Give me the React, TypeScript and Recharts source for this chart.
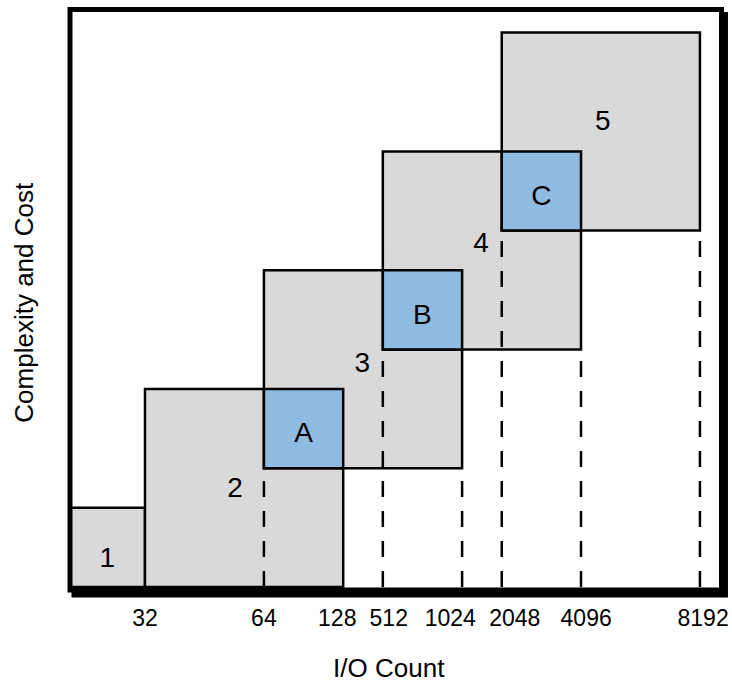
import React from 'react';
import {
  ComposedChart,
  XAxis,
  YAxis,
  ReferenceArea,
  ReferenceLine,
  ReferenceDot,
} from 'recharts';

// Tiers (gray squares)
const tierNames = ['1', '2', '3', '4', '5'];
const tierX1 = [0, 2, 5, 8, 11];
const tierX2 = [2, 7, 10, 13, 16];
const tierY1 = [0, 0, 3, 6, 9];
const tierY2 = [2, 5, 8, 11, 14];
const tierLabelX = [1.05, 4.27, 7.48, 10.48, 13.55];
const tierLabelY = [0.76, 2.52, 5.68, 8.7, 11.8];

// Overlap zones (blue squares)
const zoneNames = ['A', 'B', 'C'];
const zoneX1 = [5, 8, 11];
const zoneX2 = [7, 10, 13];
const zoneY1 = [3, 6, 9];
const zoneY2 = [5, 8, 11];

// Dashed guide lines
const guideX = [5, 8, 10, 11, 13, 16];
const guideTop = [3, 6, 3, 9, 6, 9];

// X axis tick labels
const tickPositions = [2, 5, 6.85, 8.15, 9.7, 11.33, 13.13, 16.08];
const tickLabels = ['32', '64', '128', '512', '1024', '2048', '4096', '8192'];

const X_MIN = 0.108;
const X_MAX = 16.544;
const Y_MIN = -0.076;
const Y_MAX = 14.583;

const FONT = 'Liberation Sans, Arial, Helvetica, sans-serif';
const GRAY = '#d9d9d9';
const BLUE = '#8fbbe0';

export default function App() {
  return (
    <div style={{ position: 'absolute', left: 0, top: 0, width: 732, height: 684, background: '#fff' }}>
      <ComposedChart
        width={732}
        height={684}
        margin={{ top: 9.5, right: 10.5, left: 0, bottom: 0 }}
        style={{ fontFamily: FONT }}
      >
        <XAxis
          type="number"
          dataKey="x"
          domain={[X_MIN, X_MAX]}
          allowDataOverflow
          ticks={tickPositions}
          interval={0}
          tickFormatter={(v: number) => {
            const i = tickPositions.indexOf(v);
            return i >= 0 ? tickLabels[i] : '';
          }}
          axisLine={false}
          tickLine={false}
          tickSize={6}
          tickMargin={14}
          height={94}
          tick={{ fill: '#000', fontSize: 23, fontFamily: FONT }}
          label={{
            value: 'I/O Count',
            position: 'insideBottom',
            offset: 7,
            dx: -7,
            fill: '#000',
            fontSize: 26,
            fontFamily: FONT,
          }}
        />
        <YAxis
          type="number"
          dataKey="y"
          domain={[Y_MIN, Y_MAX]}
          allowDataOverflow
          width={70}
          tick={false}
          tickLine={false}
          axisLine={false}
          label={{
            value: 'Complexity and Cost',
            angle: -90,
            position: 'center',
            dx: -11,
            dy: 3,
            fill: '#000',
            fontSize: 26,
            fontFamily: FONT,
          }}
        />

        {/* shadow of the frame */}
        <ReferenceArea
          x1={X_MIN + 0.1}
          x2={X_MAX + 0.1}
          y1={Y_MIN - 0.126}
          y2={Y_MAX - 0.126}
          fill="#000"
          fillOpacity={1}
          stroke="#000"
          strokeWidth={5}
          ifOverflow="visible"
        />
        <ReferenceArea
          x1={X_MIN}
          x2={X_MAX}
          y1={Y_MIN}
          y2={Y_MAX}
          fill="#fff"
          fillOpacity={1}
          ifOverflow="visible"
        />

        {tierNames.map((n, i) => (
          <ReferenceArea
            key={'t' + n}
            x1={tierX1[i]}
            x2={tierX2[i]}
            y1={tierY1[i]}
            y2={tierY2[i]}
            fill={GRAY}
            fillOpacity={1}
            stroke="#000"
            strokeWidth={2.5}
            ifOverflow="hidden"
          />
        ))}
        {zoneNames.map((n, i) => (
          <ReferenceArea
            key={'z' + n}
            x1={zoneX1[i]}
            x2={zoneX2[i]}
            y1={zoneY1[i]}
            y2={zoneY2[i]}
            fill={BLUE}
            fillOpacity={1}
            stroke="#000"
            strokeWidth={2.5}
            ifOverflow="hidden"
          />
        ))}

        {/* frame */}
        <ReferenceArea
          x1={X_MIN}
          x2={X_MAX}
          y1={Y_MIN}
          y2={Y_MAX}
          fill="none"
          fillOpacity={0}
          stroke="#000"
          strokeWidth={5}
          ifOverflow="visible"
        />

        {guideX.map((gx, i) => (
          <ReferenceLine
            key={'g' + i}
            segment={[
              { x: gx, y: 0 },
              { x: gx, y: guideTop[i] },
            ]}
            stroke="#000"
            strokeWidth={2.5}
            strokeDasharray="16 14"
            ifOverflow="visible"
          />
        ))}

        {tierNames.map((n, i) => (
          <ReferenceDot
            key={'tl' + n}
            x={tierLabelX[i]}
            y={tierLabelY[i]}
            r={0}
            fill="none"
            stroke="none"
            label={{ value: n, position: 'center', fill: '#000', fontSize: 28, fontFamily: FONT }}
          />
        ))}
        {zoneNames.map((n, i) => (
          <ReferenceDot
            key={'zl' + n}
            x={(zoneX1[i] + zoneX2[i]) / 2}
            y={(zoneY1[i] + zoneY2[i]) / 2 - 0.1}
            r={0}
            fill="none"
            stroke="none"
            label={{ value: n, position: 'center', fill: '#000', fontSize: 28, fontFamily: FONT }}
          />
        ))}
      </ComposedChart>
    </div>
  );
}
